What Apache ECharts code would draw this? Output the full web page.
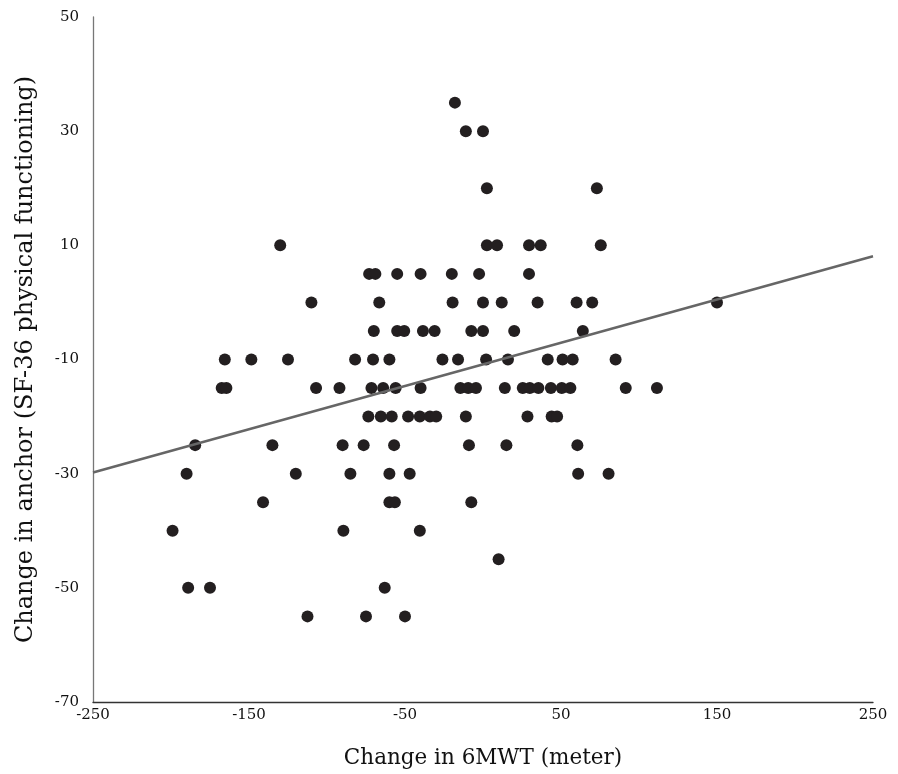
<!DOCTYPE html>
<html lang="en">
<head>
  <meta charset="UTF-8">
  <title>6MWT vs SF-36</title>
  <style>
    html, body { margin: 0; padding: 0; background: #fff; }
  </style>
</head>
<body>
  <div id="main" style="width:898px;height:774px"></div>

  <script src="https://cdn.jsdelivr.net/npm/echarts@6/dist/echarts.min.js"></script>

  <script>
    // anchor change levels (y) and the 6MWT changes (x) seen on each level
    var anchorLevels = [35, 30, 20, 10, 5, 0, -5, -10, -15, -20, -25, -30, -35, -40, -45, -50, -55]
    var walkByLevel = [
      [-18],
      [-11, 0],
      [2.5, 73],
      [-130, 2.5, 9, 29.5, 37, 75.5],
      [-73, -69, -55, -40, -20, -2.5, 29.5],
      [-110, -66.5, -19.5, 0, 12, 35, 60, 70, 150],
      [-70, -55, -50.5, -38.5, -31, -7.5, 0, 20, 64],
      [-165.5, -148.5, -125, -82, -70.5, -60, -26, -16, 2, 16, 41.5, 51, 57.5, 85],
      [-167.5, -164.5, -107, -92, -71.5, -64, -56, -40, -14.5, -9.5, -4.5, 14, 25.5, 30, 35.5, 43.5, 50.5, 56, 91.5, 111.5],
      [-73.5, -65.5, -58.5, -48, -40.5, -34, -30, -11, 28.5, 44, 47.5],
      [-184.5, -135, -90, -76.5, -57, -9, 15, 60.5],
      [-190, -120, -85, -60, -47, 61, 80.5],
      [-141, -60, -56.5, -7.5],
      [-199, -89.5, -40.5],
      [10],
      [-189, -175, -63],
      [-112.5, -75, -50]
    ]
    // fitted line, read at the two ends of the x axis
    var trendX = [-250, 250]
    var trendY = [-29.8, 8.1]

    var points = []
    anchorLevels.forEach(function (lv, i) {
      walkByLevel[i].forEach(function (w) { points.push([w, lv]) })
    })
    var trend = trendX.map(function (x, i) { return [x, trendY[i]] })

    var serif = 'DejaVu Serif'
    var myChart = echarts.init(document.getElementById('main'))
    var options = {
      animation: false,
      grid: { left: 93, right: 25, top: 17, bottom: 71 },
      xAxis: {
        type: 'value',
        min: -250, max: 250, interval: 50,
        name: 'Change in 6MWT (meter)',
        nameLocation: 'middle',
        nameGap: 45,
        nameTextStyle: { fontFamily: serif, fontSize: 21.5, color: '#111' },
        axisLine: { show: true, onZero: false, lineStyle: { color: '#333', width: 1.3 } },
        axisTick: { show: false },
        splitLine: { show: false },
        axisLabel: {
          margin: 6, fontFamily: serif, fontSize: 15, color: '#111',
          formatter: function (v) { return (v + 250) % 100 === 0 ? String(v) : '' }
        }
      },
      yAxis: {
        type: 'value',
        min: -70, max: 50, interval: 10,
        name: 'Change in anchor (SF-36 physical functioning)',
        nameLocation: 'middle',
        nameGap: 55,
        nameTextStyle: { fontFamily: serif, fontSize: 24, color: '#111' },
        axisLine: { show: true, onZero: false, lineStyle: { color: '#777', width: 1.3 } },
        axisTick: { show: false },
        splitLine: { show: false },
        axisLabel: {
          margin: 14, fontFamily: serif, fontSize: 15, color: '#111',
          formatter: function (v) { return (v + 70) % 20 === 0 ? String(v) : '' }
        }
      },
      series: [
        {
          type: 'scatter',
          data: points,
          symbol: 'circle',
          symbolSize: 12,
          itemStyle: { color: '#231f20', opacity: 1 }
        },
        {
          type: 'line',
          data: trend,
          symbol: 'none',
          lineStyle: { color: '#666', width: 2.5 }
        }
      ]
    }
    myChart.setOption(options)
  </script>
</body>
</html>
